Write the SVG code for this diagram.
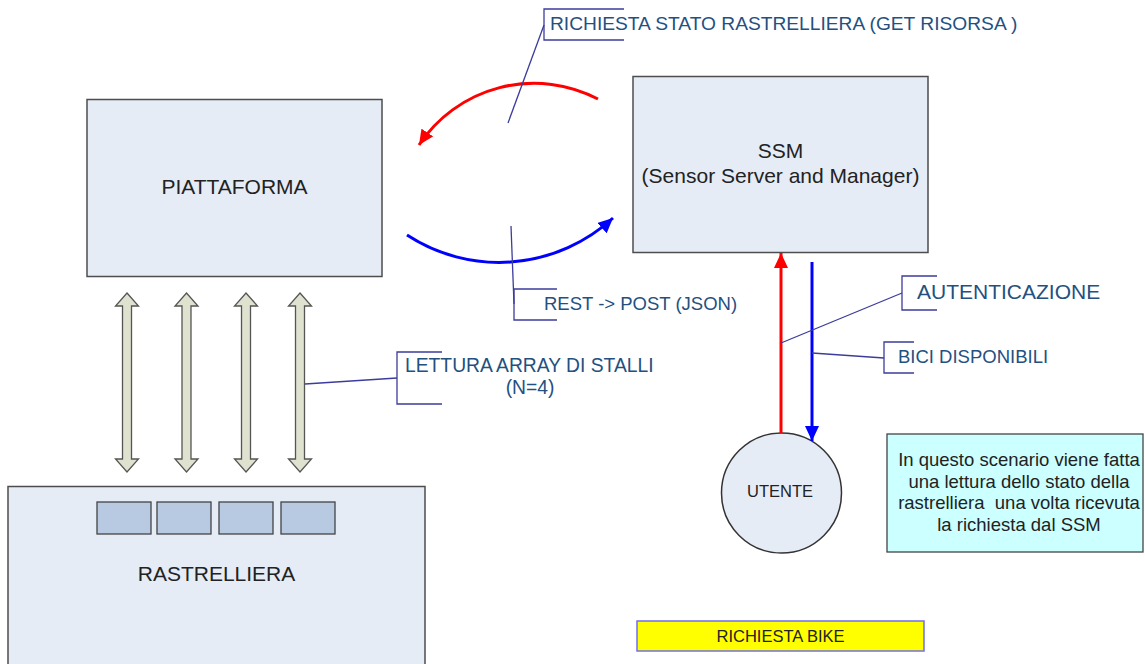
<svg xmlns="http://www.w3.org/2000/svg" width="1145" height="664" viewBox="0 0 1145 664">
  <style>
    .box { fill: #e6ecf6; stroke: #4d4d4d; stroke-width: 1.5; }
    .slot { fill: #b8c9e2; stroke: #444; stroke-width: 1.3; }
    .node { font-family: "Liberation Sans", Arial, sans-serif; font-size: 21px; fill: #222; text-anchor: middle; }
    .lbl { font-family: "Liberation Sans", Arial, sans-serif; font-size: 18.5px; fill: #24507f; }
    .lead { fill: none; stroke: #3c3c9c; stroke-width: 1.3; }
    .dbl { fill: #dfe2cf; stroke: #555; stroke-width: 1.3; stroke-linejoin: miter; }
    .note { font-family: "Liberation Sans", Arial, sans-serif; font-size: 18.5px; fill: #222; text-anchor: middle; white-space: pre; }
  </style>
  <defs>
    <marker id="headRed" viewBox="0 0 15 14" refX="15" refY="7" markerWidth="15" markerHeight="14" markerUnits="userSpaceOnUse" orient="auto">
      <path d="M0,0 L15,7 L0,14 Z" fill="#ff0000"/>
    </marker>
    <marker id="headBlue" viewBox="0 0 15 14" refX="15" refY="7" markerWidth="15" markerHeight="14" markerUnits="userSpaceOnUse" orient="auto">
      <path d="M0,0 L15,7 L0,14 Z" fill="#0000ff"/>
    </marker>
    <!-- double-headed block arrow, centred on x=0 -->
    <path id="dblArrow" class="dbl" d="M0,293 L11.5,306 L4.5,306 L4.5,459 L11.5,459 L0,472 L-11.5,459 L-4.5,459 L-4.5,306 L-11.5,306 Z"/>
  </defs>

  <rect width="1145" height="664" fill="#ffffff"/>

  <g id="piattaforma">
    <rect class="box" x="87" y="99.5" width="295" height="177"/>
    <text class="node" x="234.5" y="193.5">PIATTAFORMA</text>
  </g>

  <g id="ssm">
    <rect class="box" x="633" y="76.5" width="295" height="176"/>
    <text class="node" x="780.5" y="158">SSM</text>
    <text class="node" x="780.5" y="183">(Sensor Server and Manager)</text>
  </g>

  <g id="rastrelliera">
    <rect class="box" x="8" y="486.5" width="417" height="180"/>
    <rect class="slot" x="97" y="502" width="54" height="32"/>
    <rect class="slot" x="157" y="502" width="54" height="32"/>
    <rect class="slot" x="219" y="502" width="54" height="32"/>
    <rect class="slot" x="281" y="502" width="54" height="32"/>
    <text class="node" x="216.5" y="581">RASTRELLIERA</text>
  </g>

  <g id="utente">
    <circle cx="781.5" cy="493" r="60" fill="#e6ecf6" stroke="#333" stroke-width="1.5"/>
    <text class="node" x="780" y="497" style="font-size:16.5px">UTENTE</text>
  </g>

  <g id="nota">
    <rect x="887" y="434" width="256" height="118" fill="#ccffff" stroke="#444" stroke-width="1.3"/>
    <text class="note" x="1019" y="466">In questo scenario viene fatta</text>
    <text class="note" x="1019" y="487.5">una lettura dello stato della</text>
    <text class="note" x="1019" y="509">rastrelliera  una volta ricevuta</text>
    <text class="note" x="1019" y="530.5">la richiesta dal SSM</text>
  </g>

  <g id="richiesta-bike">
    <rect x="637" y="621" width="287" height="30" fill="#ffff00" stroke="#6f6ff0" stroke-width="1.5"/>
    <text class="node" x="780.5" y="641.5" style="font-size:16.5px">RICHIESTA BIKE</text>
  </g>

  <g id="connectors">
    <!-- stall read links between platform and rack -->
    <use href="#dblArrow" transform="translate(127,0)"/>
    <use href="#dblArrow" transform="translate(186.5,0)"/>
    <use href="#dblArrow" transform="translate(246,0)"/>
    <use href="#dblArrow" transform="translate(300,0)"/>

    <!-- SSM -> platform request -->
    <path d="M598,99 A138,138 0 0 0 419,145" fill="none" stroke="#ff0000" stroke-width="3" marker-end="url(#headRed)"/>
    <!-- platform -> SSM post -->
    <path d="M407,235 A168.5,168.5 0 0 0 613,218" fill="none" stroke="#0000ff" stroke-width="3" marker-end="url(#headBlue)"/>

    <!-- user <-> SSM -->
    <line x1="781" y1="433" x2="781" y2="253" stroke="#ff0000" stroke-width="3" marker-end="url(#headRed)"/>
    <line x1="812" y1="262" x2="812" y2="441" stroke="#0000ff" stroke-width="3" marker-end="url(#headBlue)"/>
  </g>

  <g id="callouts">
    <path class="lead" d="M508,123 L544,25"/>
    <path class="lead" d="M624,9 H544 V40 H624"/>
    <text class="lbl" x="550" y="30" style="font-size:19.2px">RICHIESTA STATO RASTRELLIERA (GET RISORSA )</text>

    <path class="lead" d="M511,226 L514,304"/>
    <path class="lead" d="M557,289 H514 V320 H557"/>
    <text class="lbl" x="544" y="310">REST -&gt; POST (JSON)</text>

    <path class="lead" d="M305,384 L397,378"/>
    <path class="lead" d="M442,352 H397 V404 H442"/>
    <text class="lbl" x="405" y="372" style="font-size:19.3px">LETTURA ARRAY DI STALLI</text>
    <text class="lbl" x="530" y="394" text-anchor="middle" style="font-size:19.3px">(N=4)</text>

    <path class="lead" d="M781,343 L902,293"/>
    <path class="lead" d="M937,276 H902 V310 H937"/>
    <text class="lbl" x="917" y="299" style="font-size:21px">AUTENTICAZIONE</text>

    <path class="lead" d="M812,353 L884,358"/>
    <path class="lead" d="M914,342 H884 V373 H914"/>
    <text class="lbl" x="898" y="363">BICI DISPONIBILI</text>
  </g>
</svg>
